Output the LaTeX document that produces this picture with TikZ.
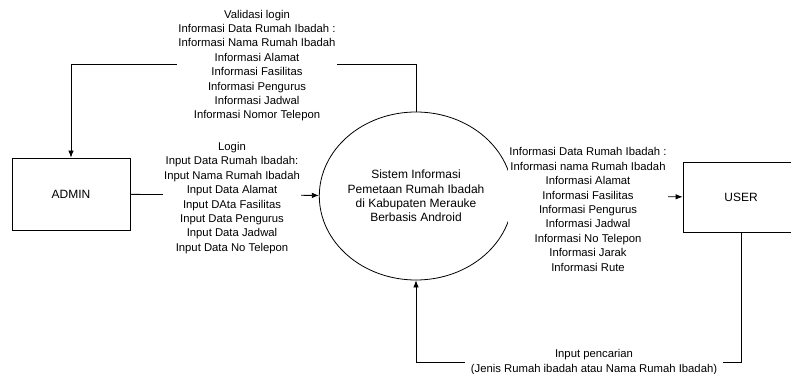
\documentclass[tikz,border=0pt]{standalone}
\usepackage{fontspec}
\setmainfont{Liberation Sans}
\usetikzlibrary{shapes.geometric,arrows.meta}

\begin{document}
\begin{tikzpicture}[x=1pt, y=-1pt, line width=0.8pt]
				\tikzset{entity/.style = {draw, minimum width=118pt, minimum height=72pt, font=\fontsize{12}{14}\selectfont},
					process/.style = {draw, ellipse, minimum width=163pt, minimum height=168pt, inner sep=0pt, align=center, font=\fontsize{12}{14.2}\selectfont},
					flow/.style = {-{Latex[length=7pt,width=5.5pt]}},
					data/.style = {fill=white, inner sep=1pt, align=center, font=\fontsize{11.3}{14.4}\selectfont}}
				\useasboundingbox (0,0) rectangle (791,374);
				% entities and process
				\node[entity] (admin) at (71,194) {ADMIN};
				\node[entity, minimum width=116pt, minimum height=70pt] (user) at (741,197) {USER};
				\node[process] (proc) at (416,196) {Sistem Informasi\\Pemetaan Rumah Ibadah\\di Kabupaten Merauke\\Berbasis Android};
				% bend points
				\coordinate (c1) at (71,64);
				\coordinate (c2) at (416,362);
				% data flows
				\draw[flow] (proc.north) |- (c1) -- (admin.north);
				\draw[flow] (admin) -- (proc);
				\draw[flow] (proc) -- (user);
				\draw[flow] (user.south) |- (c2) -- (proc.south);
				% labels on the flows
				\node[data] (lbl1) at (257,65.5) {Validasi login\\Informasi Data Rumah Ibadah :\\Informasi Nama Rumah Ibadah\\Informasi Alamat\\Informasi Fasilitas\\Informasi Pengurus\\Informasi Jadwal\\Informasi Nomor Telepon};
				\node[data] (lbl2) at (232,198) {Login\\Input Data Rumah Ibadah:\\Input Nama Rumah Ibadah\\Input Data Alamat\\Input DAta Fasilitas\\Input Data Pengurus\\Input Data Jadwal\\Input Data No Telepon};
				\node[data] (lbl3) at (588,209.5) {Informasi Data Rumah Ibadah :\\Informasi nama Rumah Ibadah\\Informasi Alamat\\Informasi Fasilitas\\Informasi Pengurus\\Informasi Jadwal\\Informasi No Telepon\\Informasi Jarak\\Informasi Rute};
				\node[data, inner xsep=6pt] (lbl4) at (594,362) {Input pencarian\\(Jenis Rumah ibadah atau Nama Rumah Ibadah)};
			\end{tikzpicture}
\end{document}
